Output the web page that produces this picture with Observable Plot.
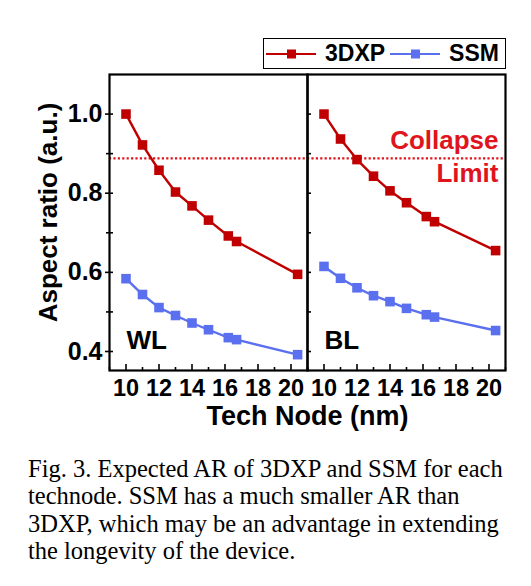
<!DOCTYPE html>
<html>
<head>
<meta charset="utf-8">
<script src="https://cdn.jsdelivr.net/npm/d3@7"></script>
<script src="https://cdn.jsdelivr.net/npm/@observablehq/plot@0.6"></script>
<style>
  body { margin: 0; background: #fff; }
  #wrap { position: relative; width: 531px; height: 586px; overflow: hidden; }
  #chart { position: absolute; left: 0; top: 0; }
  #legend { position: absolute; left: 263px; top: 38px; width: 241px; height: 29px;
    border: 1.6px solid #000; display: flex; align-items: center;
    font: bold 23px "Liberation Sans", Arial, sans-serif; color: #000; box-sizing: content-box; }
  #legend .item { display: flex; align-items: center; }
  #legend svg { display: block; }
  #caption { position: absolute; left: 28px; top: 455px; width: 503px;
    font-family: "Liberation Serif", "Times New Roman", serif; font-size: 24.5px; line-height: 27.3px; color: #000; }
</style>
</head>
<body>
<div id="wrap">
  <div id="chart"></div>
  <div id="legend"></div>
  <div id="caption">Fig. 3. Expected AR of 3DXP and SSM for each<br>technode. SSM has a much smaller AR than<br>3DXP, which may be an advantage in extending<br>the longevity of the device.</div>
</div>
<script>
// ---- data ----
const panels = ["WL", "BL"];
const series = ["3DXP", "SSM"];
const seriesColors = ["#c00000", "#5b70ef"];
const nodes = [10, 11, 12, 13, 14, 15, 16.2, 16.7, 20.4];
const wl3dxp = [1.0, 0.922, 0.858, 0.803, 0.768, 0.732, 0.692, 0.678, 0.595];
const wlSsm  = [0.584, 0.544, 0.511, 0.491, 0.472, 0.455, 0.435, 0.430, 0.392];
const bl3dxp = [1.0, 0.937, 0.885, 0.843, 0.806, 0.776, 0.741, 0.728, 0.655];
const blSsm  = [0.615, 0.585, 0.561, 0.541, 0.526, 0.509, 0.493, 0.487, 0.453];
const collapseLimit = 0.888;
const collapseText = "Collapse\nLimit";
const xMajorTicks = [10, 12, 14, 16, 18, 20];
const xMinorTicks = [9, 11, 13, 15, 17, 19, 21];
const yMajorTicks = [0.4, 0.6, 0.8, 1.0];
const yMinorTicks = [0.5, 0.7, 0.9];
const xLabel = "Tech Node (nm)";
const yLabel = "Aspect ratio (a.u.)";

// ---- build table ----
const table = {WL: {"3DXP": wl3dxp, "SSM": wlSsm}, BL: {"3DXP": bl3dxp, "SSM": blSsm}};
const rows = [];
for (const p of panels) for (const s of series)
  table[p][s].forEach((v, i) => rows.push({panel: p, series: s, node: nodes[i], value: v}));

const font = "Liberation Sans, Arial, sans-serif";
const chart = Plot.plot({
  width: 531, height: 440,
  marginLeft: 108, marginRight: 26, marginTop: 74, marginBottom: 70,
  style: {fontFamily: font, fontWeight: "bold", color: "#000", background: "transparent"},
  fx: {domain: panels, padding: 0, label: null},
  x: {domain: [9, 21], label: null},
  y: {domain: [0.352, 1.1], label: null},
  color: {domain: series, range: seriesColors},
  marks: [
    Plot.ruleY([collapseLimit], {stroke: "#e0141c", strokeWidth: 2.2, strokeDasharray: "2.2,2.2"}),
    Plot.line(rows, {fx: "panel", x: "node", y: "value", z: "series", stroke: "series", strokeWidth: 2.4}),
    Plot.dot(rows, {fx: "panel", x: "node", y: "value", fill: "series", symbol: "square", r: 5.4}),
    Plot.text(panels, {fx: d => d, text: d => d, frameAnchor: "bottom-left", textAnchor: "start",
      lineAnchor: "bottom", dx: 17, dy: -22, fontSize: 26, fontWeight: "bold", fill: "#000"}),
    Plot.text([{panel: "BL", label: collapseText}], {fx: "panel", y: () => collapseLimit, text: "label",
      frameAnchor: "right", textAnchor: "end", lineAnchor: "middle", lineHeight: 1.27,
      dx: -7, dy: -3, fontSize: 26, fontWeight: "bold", fill: "#e0141c"}),
    Plot.frame({stroke: "#000", strokeWidth: 2.2}),
    // x axis
    Plot.axisX({ticks: xMajorTicks, tickSize: 0, tickPadding: 9, fontSize: 23.5, label: null}),
    Plot.axisX({ticks: xMajorTicks, tickSize: -6, text: null, label: null, strokeWidth: 1.6}),
    Plot.axisX({ticks: xMinorTicks, tickSize: -3, text: null, label: null, strokeWidth: 1.6}),
    Plot.axisFx({anchor: "bottom", tickSize: 0, tickFormat: () => "", label: xLabel,
      labelAnchor: "center", labelOffset: 54, fontSize: 27, dx: 4}),
    // y axis
    Plot.axisY({ticks: yMajorTicks, tickFormat: ".1f", tickSize: 4, tickPadding: 3, fontSize: 25,
      label: null, strokeWidth: 1.6}),
    Plot.axisY({ticks: yMinorTicks, tickSize: 3, text: null, label: null, strokeWidth: 1.6}),
    Plot.axisY({ticks: yMajorTicks.concat(yMinorTicks), tickSize: -4, text: null, label: null,
      facetAnchor: null, strokeWidth: 1.6}),
    Plot.text([yLabel], {fx: () => panels[0], frameAnchor: "left", rotate: -90, text: d => d,
      textAnchor: "middle", dx: -61, dy: -10, fontSize: 26, fontWeight: "bold", fill: "#000"})
  ]
});
document.getElementById("chart").appendChild(chart);

// ---- legend ----
const legend = d3.select("#legend");
series.forEach((s, i) => {
  const item = legend.append("span").attr("class", "item")
    .style("margin-left", i === 0 ? "2px" : "5px");
  const svg = item.append("svg").attr("width", 50).attr("height", 14);
  svg.append("line").attr("x1", 0).attr("x2", 50).attr("y1", 7).attr("y2", 7)
    .attr("stroke", seriesColors[i]).attr("stroke-width", 2);
  svg.append("rect").attr("x", 21).attr("y", 2.5).attr("width", 9).attr("height", 9)
    .attr("fill", seriesColors[i]);
  item.append("span").text(s).style("margin-left", "9px");
});
</script>
</body>
</html>
